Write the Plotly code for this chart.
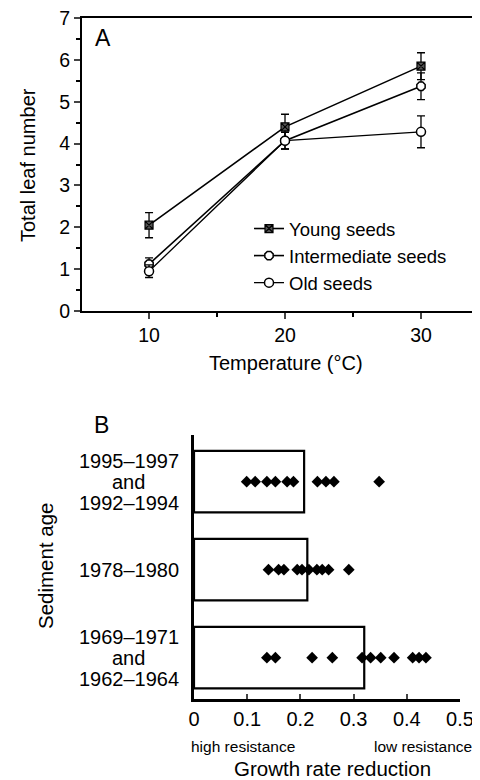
import plotly.graph_objects as go

# Panel A: total leaf number vs temperature
temps = [10, 20, 30]
young = [2.05, 4.4, 5.85]
young_err = [0.3, 0.3, 0.32]
inter = [1.12, 4.07, 5.37]
inter_err = [0.15, 0.2, 0.32]
old = [0.95, 4.07, 4.28]
old_err = [0.15, 0.2, 0.38]

# Panel B: growth rate reduction by sediment age
ages = ["1969–1971 and 1962–1964", "1978–1980", "1995–1997 and 1992–1994"]
age_lines = [["1969–1971", "and", "1962–1964"], ["1978–1980"], ["1995–1997", "and", "1992–1994"]]
mean_red = [0.32, 0.213, 0.207]
pts_old = [0.137, 0.153, 0.222, 0.260, 0.316, 0.332, 0.351, 0.376, 0.411, 0.423, 0.436]
pts_mid = [0.140, 0.159, 0.169, 0.194, 0.203, 0.216, 0.231, 0.241, 0.253, 0.291]
pts_new = [0.099, 0.115, 0.137, 0.153, 0.175, 0.187, 0.232, 0.248, 0.263, 0.348]

FONT = "Liberation Sans, Arial, sans-serif"
# page body has an 8px margin, so the figure is a bit smaller than the window
OFF = 8
W, H = 480 - OFF, 780 - OFF

def px(v):
    return (v - OFF) / W

def py(v):
    return 1 - (v - OFF) / H

fig = go.Figure()

def err(v):
    return dict(type="data", array=v, color="black", thickness=1.3, width=4)

fig.add_trace(go.Scatter(x=temps, y=young, error_y=err(young_err), name="Young seeds", legendgroup="a",
                         mode="lines+markers", line=dict(color="black", width=1.6),
                         marker=dict(symbol="square-x", size=8, color="#555", line=dict(color="black", width=1.2))))
fig.add_trace(go.Scatter(x=temps, y=inter, error_y=err(inter_err), name="Intermediate seeds", legendgroup="b",
                         mode="lines+markers", line=dict(color="black", width=1.6),
                         marker=dict(symbol="octagon", size=9, color="white", line=dict(color="black", width=1.5))))
fig.add_trace(go.Scatter(x=temps, y=old, error_y=err(old_err), name="Old seeds", legendgroup="c",
                         mode="lines+markers", line=dict(color="black", width=1.3),
                         marker=dict(symbol="circle", size=9, color="white", line=dict(color="black", width=1.5))))

# Panel B bars + points
fig.add_trace(go.Bar(x=mean_red, y=ages, orientation="h", width=0.7, xaxis="x2", yaxis="y2",
                     marker=dict(color="white", line=dict(color="black", width=2.2)), showlegend=False))
for pts, age in zip([pts_old, pts_mid, pts_new], ages):
    fig.add_trace(go.Scatter(x=pts, y=[age] * len(pts), mode="markers", xaxis="x2", yaxis="y2",
                             marker=dict(symbol="diamond", size=9, color="black"), showlegend=False))

fig.update_layout(
    width=W, height=H, margin=dict(l=0, r=0, t=0, b=0),
    plot_bgcolor="white", paper_bgcolor="white",
    font=dict(family=FONT, color="black", size=20),
    xaxis=dict(domain=[px(82), 1.0], range=[5.07, 34.34], tickvals=[10, 20, 30], automargin=False,
               ticks="outside", ticklen=6, tickwidth=1.5, showline=True, linewidth=2, linecolor="black",
               mirror=True, showgrid=False, zeroline=False, tickfont=dict(size=19.5),
               minor=dict(tickvals=[15, 25], ticks="outside", ticklen=4, tickcolor="black")),
    yaxis=dict(domain=[py(311), py(18)], range=[0, 7], dtick=1, automargin=False, ticklabeloverflow="allow",
               ticks="outside", ticklen=6, tickwidth=1.5, showline=True, linewidth=2, linecolor="black",
               showgrid=False, zeroline=False, tickfont=dict(size=19.5),
               minor=dict(dtick=0.5, ticks="outside", ticklen=4, tickcolor="black")),
    xaxis2=dict(domain=[px(194), px(460)], range=[0, 0.5], dtick=0.1, anchor="y2", automargin=False,
                ticks="inside", ticklen=5, tickwidth=2, showline=True, linewidth=2.5, linecolor="black",
                showgrid=False, zeroline=False, tickfont=dict(size=20)),
    yaxis2=dict(domain=[py(699), py(435)], range=[-0.47, 2.53], anchor="x2", automargin=False,
                type="category", categoryarray=ages, showticklabels=False, ticks="",
                showline=True, linewidth=2.5, linecolor="black", showgrid=False, zeroline=False),
    legend=dict(x=px(249), y=py(210), xanchor="left", yanchor="top",
                bgcolor="rgba(0,0,0,0)", font=dict(size=18.5), tracegroupgap=0),
)

ann = [
    dict(text="A", x=103, y=38, size=23),
    dict(text="B", x=101, y=425, size=23),
    dict(text="Temperature (°C)", x=286, y=363, size=20),
    dict(text="Growth rate reduction", x=332, y=768, size=20.5),
    dict(text="high resistance", x=243, y=746, size=15.5),
    dict(text="low resistance", x=423, y=746, size=15.5),
]
for a in ann:
    fig.add_annotation(text=a["text"], x=px(a["x"]), y=py(a["y"]), xref="paper", yref="paper",
                       showarrow=False, font=dict(size=a["size"]), xanchor="center", yanchor="middle")

fig.add_annotation(text="Total leaf number", x=px(28), y=py(165), xref="paper", yref="paper",
                   showarrow=False, textangle=-90, font=dict(size=20), xanchor="center", yanchor="middle")
fig.add_annotation(text="Sediment age", x=px(45), y=py(566), xref="paper", yref="paper",
                   showarrow=False, textangle=-90, font=dict(size=20.5), xanchor="center", yanchor="middle")
# multi-line category labels, one annotation per line for tight line spacing
for lines, age in zip(age_lines, ages):
    n = len(lines)
    for i, ln in enumerate(lines):
        fig.add_annotation(text=ln, x=px(129), y=age, xref="paper", yref="y2", showarrow=False,
                           xanchor="center", yshift=((n - 1) / 2 - i) * 21, font=dict(size=20))

fig.write_html("out.html")
